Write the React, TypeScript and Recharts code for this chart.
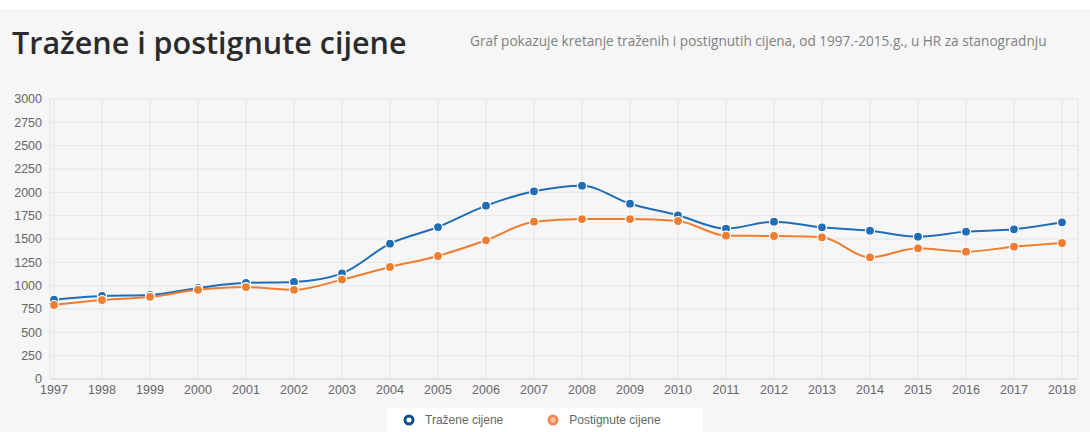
import React from 'react';
import { LineChart, Line, XAxis, YAxis, CartesianGrid } from 'recharts';

const years = ['1997','1998','1999','2000','2001','2002','2003','2004','2005','2006','2007','2008','2009','2010','2011','2012','2013','2014','2015','2016','2017','2018'];
const trazene = [850, 890, 900, 975, 1030, 1040, 1132, 1450, 1628, 1857, 2011, 2071, 1878, 1754, 1611, 1686, 1625, 1589, 1525, 1579, 1604, 1679];
const postignute = [793, 846, 880, 955, 985, 955, 1065, 1200, 1318, 1486, 1686, 1714, 1714, 1693, 1536, 1532, 1518, 1304, 1400, 1364, 1418, 1457];
const yTicks = [0, 250, 500, 750, 1000, 1250, 1500, 1750, 2000, 2250, 2500, 2750, 3000];

const seriesNames = ['Tražene cijene', 'Postignute cijene'];
const colors = ['#1f6db5', '#ef7d2f'];

const data = years.map((y, i) => ({ year: y, trazene: trazene[i], postignute: postignute[i] }));

const LegendBox = () => (
  <div style={{ position: 'absolute', top: 408, left: 387, background: '#ffffff', width: 316, height: 24, display: 'flex', alignItems: 'center', fontFamily: 'Arial, "Liberation Sans", sans-serif', fontSize: 12, color: '#666' }}>
    <svg width={12} height={12} style={{ marginLeft: 16 }}>
      <circle cx={6} cy={6} r={4} fill="#fff" stroke="#124f8c" strokeWidth={3} />
    </svg>
    <span style={{ marginLeft: 10 }}>{seriesNames[0]}</span>
    <svg width={12} height={12} style={{ marginLeft: 44 }}>
      <circle cx={6} cy={6} r={4} fill="#f7c4a4" stroke="#f08a5a" strokeWidth={3} />
    </svg>
    <span style={{ marginLeft: 10 }}>{seriesNames[1]}</span>
  </div>
);

export default function App() {
  return (
    <div style={{ position: 'fixed', top: 0, left: 0, width: 1090, height: 432, background: '#ffffff', overflow: 'hidden' }}>
      <div style={{ position: 'absolute', top: 9, left: 0, width: 1090, height: 423, background: '#f6f6f6' }} />
      <div style={{ position: 'absolute', top: 21, left: 12, fontFamily: '"Open Sans", sans-serif', fontWeight: 600, fontSize: 30.5, color: '#2b2b2b', whiteSpace: 'nowrap' }}>
        Tražene i postignute cijene
      </div>
      <div style={{ position: 'absolute', top: 31, left: 470, fontFamily: '"Open Sans", sans-serif', fontSize: 13.6, color: '#808080', whiteSpace: 'nowrap' }}>
        Graf pokazuje kretanje traženih i postignutih cijena, od 1997.-2015.g., u HR za stanogradnju
      </div>
      <div style={{ position: 'absolute', top: 0, left: 0 }}>
        <LineChart width={1090} height={432} data={data} margin={{ top: 99, right: 12, bottom: 33, left: 0 }}>
          <CartesianGrid stroke="#e4e4e4" strokeWidth={1} />
          <XAxis
            dataKey="year"
            height={20}
            padding={{ left: 4, right: 16 }}
            axisLine={{ stroke: '#d8d8d8' }}
            tickLine={false}
            tickSize={0}
            tickMargin={6}
            interval={0}
            tick={{ fill: '#666', fontSize: 12.5, fontFamily: 'Arial, "Liberation Sans", sans-serif' }}
          />
          <YAxis
            width={50}
            domain={[0, 3000]}
            ticks={yTicks}
            axisLine={false}
            tickLine={false}
            tickSize={0}
            tickMargin={8}
            interval={0}
            tick={{ fill: '#666', fontSize: 12.5, fontFamily: 'Arial, "Liberation Sans", sans-serif' }}
          />
          <Line
            type="monotone"
            dataKey="trazene"
            name={seriesNames[0]}
            stroke={colors[0]}
            strokeWidth={2}
            dot={{ r: 4.5, fill: colors[0], stroke: '#fff', strokeWidth: 1.2 }}
            isAnimationActive={false}
          />
          <Line
            type="monotone"
            dataKey="postignute"
            name={seriesNames[1]}
            stroke={colors[1]}
            strokeWidth={2}
            dot={{ r: 4.5, fill: colors[1], stroke: '#fff', strokeWidth: 1.2 }}
            isAnimationActive={false}
          />
        </LineChart>
      </div>
      <LegendBox />
    </div>
  );
}
